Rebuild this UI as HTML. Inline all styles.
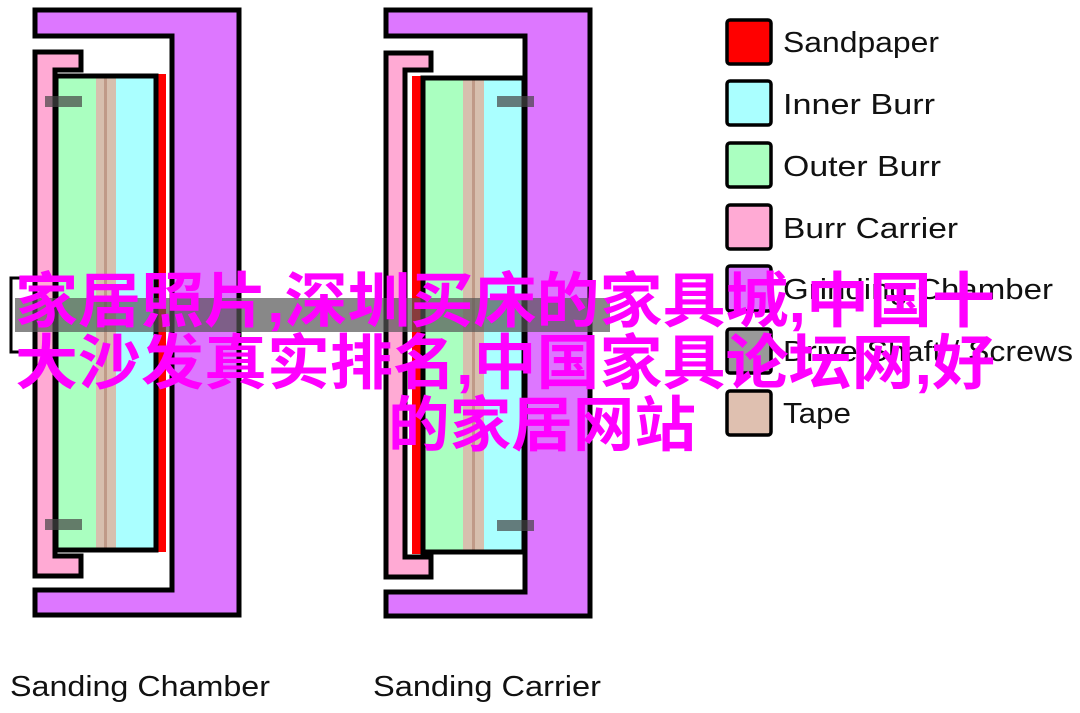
<!DOCTYPE html>
<html><head><meta charset="utf-8"><style>
html,body{margin:0;padding:0;background:#fff;}
svg{display:block;}
.lg{font-family:"Liberation Sans","DejaVu Sans",sans-serif;font-size:29px;fill:#111;}
.cj{font-family:"Liberation Sans","Noto Sans CJK SC",sans-serif;font-size:60px;fill:#ff00ff;font-weight:bold;}
</style></head><body>
<svg width="1080" height="713" viewBox="0 0 1080 713" xmlns="http://www.w3.org/2000/svg">
<!-- LEFT FIGURE -->
<polygon points="35,10 239,10 239,615 35,615 35,590 172,590 172,36 35,36" fill="#dd77ff" stroke="#000" stroke-width="5"/>
<polygon points="35,52 81,52 81,70 55,70 55,556 81,556 81,576 35,576" fill="#ffaad4" stroke="#000" stroke-width="5"/>
<rect x="157" y="74" width="9" height="478" fill="#ff0000"/>
<rect x="56" y="76" width="40" height="474" fill="#aaffc0"/>
<rect x="96" y="76" width="20" height="474" fill="#d7bfae"/>
<rect x="104" y="76" width="3" height="474" fill="#c09a88"/>
<rect x="116" y="76" width="40" height="474" fill="#aaffff"/>
<rect x="56" y="76" width="100" height="474" fill="none" stroke="#000" stroke-width="5"/>
<rect x="45" y="96" width="37" height="11" fill="#444" opacity="0.7"/>
<rect x="45" y="519" width="37" height="11" fill="#444" opacity="0.7"/>
<!-- RIGHT FIGURE -->
<polygon points="386,10 590,10 590,616 386,616 386,592 525,592 525,36 386,36" fill="#dd77ff" stroke="#000" stroke-width="5"/>
<polygon points="386,53 431,53 431,70 405,70 405,557 431,557 431,577 386,577" fill="#ffaad4" stroke="#000" stroke-width="5"/>
<rect x="412" y="76" width="9" height="478" fill="#ff0000"/>
<rect x="423" y="78" width="40" height="474" fill="#aaffc0"/>
<rect x="463" y="78" width="21" height="474" fill="#d7bfae"/>
<rect x="472" y="78" width="3" height="474" fill="#c09a88"/>
<rect x="484" y="78" width="40" height="474" fill="#aaffff"/>
<rect x="423" y="78" width="101" height="474" fill="none" stroke="#000" stroke-width="5"/>
<rect x="497" y="96" width="37" height="11" fill="#444" opacity="0.7"/>
<rect x="497" y="520" width="37" height="11" fill="#444" opacity="0.7"/>
<!-- middle overlay bar -->
<polyline points="20,278 11,278 11,352 20,352" fill="none" stroke="#000" stroke-width="3"/>
<rect x="15" y="298" width="595" height="34" fill="#555" opacity="0.7"/>
<!-- LEGEND -->
<g stroke="#000" stroke-width="3.5">
<rect x="727" y="20" width="44" height="44" rx="3" fill="#ff0000"/>
<rect x="727" y="81" width="44" height="44" rx="3" fill="#aaffff"/>
<rect x="727" y="143" width="44" height="44" rx="3" fill="#aaffc0"/>
<rect x="727" y="205" width="44" height="44" rx="3" fill="#ffaad4"/>
<rect x="727" y="266" width="44" height="45" rx="3" fill="#dd77ff"/>
<rect x="727" y="329" width="44" height="44" rx="3" fill="#999"/>
<rect x="727" y="391" width="44" height="44" rx="3" fill="#dfc0b0"/>
</g>
<text class="lg" x="783" y="52" textLength="156" lengthAdjust="spacingAndGlyphs">Sandpaper</text>
<text class="lg" x="783" y="114" textLength="152" lengthAdjust="spacingAndGlyphs">Inner Burr</text>
<text class="lg" x="783" y="176" textLength="158" lengthAdjust="spacingAndGlyphs">Outer Burr</text>
<text class="lg" x="783" y="238" textLength="175" lengthAdjust="spacingAndGlyphs">Burr Carrier</text>
<text class="lg" x="783" y="299" textLength="270" lengthAdjust="spacingAndGlyphs">Grinding Chamber</text>
<text class="lg" x="783" y="361" textLength="290" lengthAdjust="spacingAndGlyphs">Drive Shaft / Screws</text>
<text class="lg" x="783" y="423" textLength="68" lengthAdjust="spacingAndGlyphs">Tape</text>
<text class="lg" x="10" y="696" textLength="260" lengthAdjust="spacingAndGlyphs">Sanding Chamber</text>
<text class="lg" x="373" y="696" textLength="228" lengthAdjust="spacingAndGlyphs">Sanding Carrier</text>
<!-- OVERLAY TEXT -->
<text class="cj" x="15" y="322" textLength="980" lengthAdjust="spacingAndGlyphs">家居照片,深圳买床的家具城,中国十</text>
<text class="cj" x="15" y="384" textLength="980" lengthAdjust="spacingAndGlyphs">大沙发真实排名,中国家具论坛网,好</text>
<text class="cj" x="388" y="446" textLength="308" lengthAdjust="spacingAndGlyphs">的家居网站</text>
</svg>
</body></html>
